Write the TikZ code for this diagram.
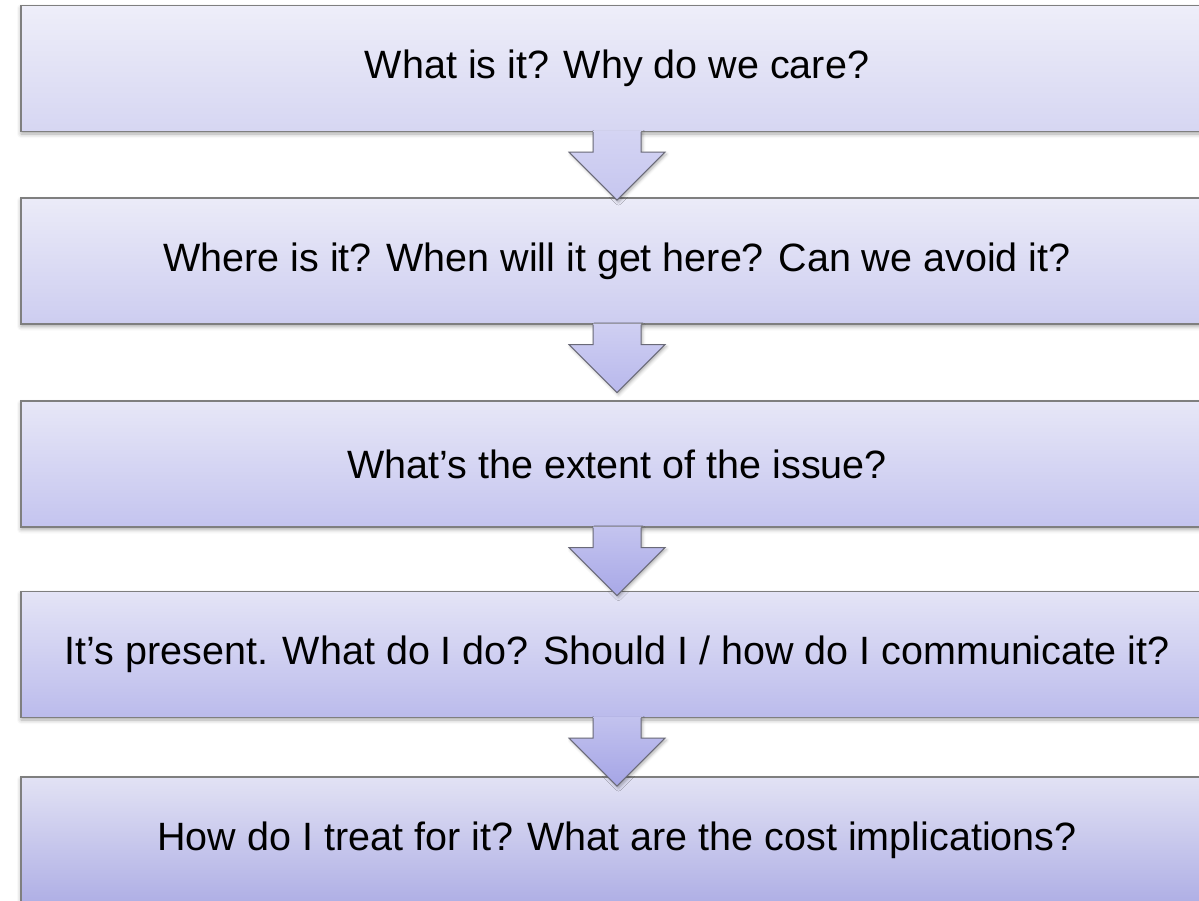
\documentclass[tikz,border=0pt]{standalone}
\usepackage{fontspec}
\setmainfont{Liberation Sans}
\usetikzlibrary{calc,shadows.blur}

\definecolor{edgegray}{HTML}{7F7F7F}
\definecolor{arrowedge}{HTML}{6A6A78}
\definecolor{boxAt}{HTML}{EEEEF9}\definecolor{boxAb}{HTML}{D6D6F2}
\definecolor{boxBt}{HTML}{EBEBF8}\definecolor{boxBb}{HTML}{CDCDF0}
\definecolor{boxCt}{HTML}{E7E7F7}\definecolor{boxCb}{HTML}{C4C4EF}
\definecolor{boxDt}{HTML}{E4E4F6}\definecolor{boxDb}{HTML}{BBBBEC}
\definecolor{boxEt}{HTML}{E2E2F4}\definecolor{boxEb}{HTML}{AFAFE5}
\definecolor{arrAt}{HTML}{D4D4F3}\definecolor{arrAb}{HTML}{C6C6EF}
\definecolor{arrBt}{HTML}{CFCFF2}\definecolor{arrBb}{HTML}{B8B8EC}
\definecolor{arrCt}{HTML}{C4C4EF}\definecolor{arrCb}{HTML}{A8A8E7}
\definecolor{arrDt}{HTML}{C2C2EE}\definecolor{arrDb}{HTML}{A5A5E6}

\tikzset{
  stagebox/.style={draw=edgegray, line width=1.2pt, rectangle,
    minimum width=1192pt, minimum height=126pt, inner sep=0pt,
    font=\fontsize{39.5}{47}\selectfont, text=black,
    blur shadow={shadow xshift=0pt, shadow yshift=-2.5pt, shadow blur radius=4pt, shadow opacity=35}},
  arrowfill/.style={blur shadow={shadow xshift=1.5pt, shadow yshift=-2pt, shadow blur radius=3pt, shadow opacity=30}},
  arrowline/.style={draw=arrowedge, line width=1pt, line join=miter},
}

% block arrow hanging from the bottom edge of a stage box
\newcommand{\stagearrow}[3]{%
  \shade[top color=#2, bottom color=#3, arrowfill]
    ($(#1.south)+(-24,-1)$) -- ($(#1.south)+(-24,20)$) -- ($(#1.south)+(-48,20)$)
    -- ($(#1.south)+(0,68)$) -- ($(#1.south)+(48,20)$) -- ($(#1.south)+(24,20)$)
    -- ($(#1.south)+(24,-1)$) -- cycle;
  \draw[arrowline]
    ($(#1.south)+(-24,0)$) -- ($(#1.south)+(-24,20)$) -- ($(#1.south)+(-48,20)$)
    -- ($(#1.south)+(0,68)$) -- ($(#1.south)+(48,20)$) -- ($(#1.south)+(24,20)$)
    -- ($(#1.south)+(24,0)$);
}

\begin{document}
\begin{tikzpicture}[x=1pt, y=-1pt]
  \useasboundingbox (0,0) rectangle (1199,900);

  \node[stagebox, top color=boxAt, bottom color=boxAb] (b1) at (617,68.5)
    {What is it? Why do we care?};
  \node[stagebox, top color=boxBt, bottom color=boxBb] (b2) at (617,261)
    {Where is it? When will it get here? Can we avoid it?};
  \node[stagebox, top color=boxCt, bottom color=boxCb] (b3) at (617,464)
    {What’s the extent of the issue?};
  \node[stagebox, top color=boxDt, bottom color=boxDb] (b4) at (617,654.5)
    {It’s present. What do I do? Should I / how do I communicate it?};
  \node[stagebox, top color=boxEt, bottom color=boxEb] (b5) at (617,840)
    {How do I treat for it? What are the cost implications?};

  \stagearrow{b1}{arrAt}{arrAb}
  \stagearrow{b2}{arrBt}{arrBb}
  \stagearrow{b3}{arrCt}{arrCb}
  \stagearrow{b4}{arrDt}{arrDb}
\end{tikzpicture}
\end{document}
